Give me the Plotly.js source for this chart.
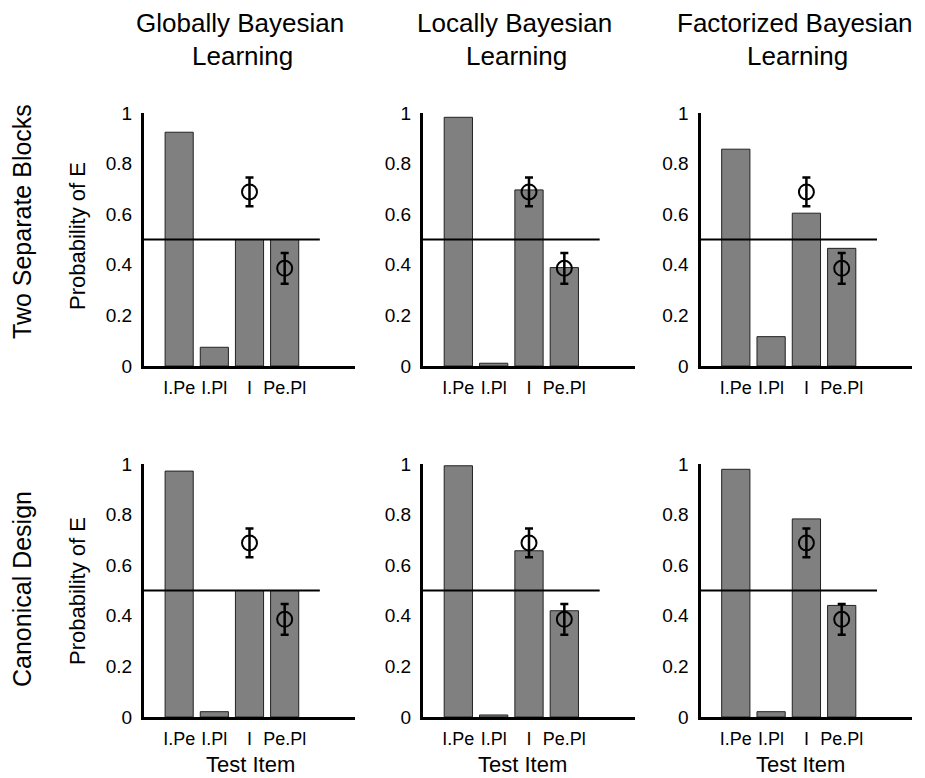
<!DOCTYPE html>
<html>
<head>
<meta charset="utf-8">
<script src="https://cdn.plot.ly/plotly-3.0.1.min.js"></script>
<style>html,body{margin:0;padding:0;background:#fff;}#chart{width:925px;height:778px;}</style>
</head>
<body>
<div id="chart"></div>
<script>
// ---- data ----
const categories = ['I.Pe', 'I.Pl', 'I', 'Pe.Pl'];
const modelNames = ['Globally Bayesian', 'Locally Bayesian', 'Factorized Bayesian'];
const titleSecondLine = 'Learning';
const designNames = ['Two Separate Blocks', 'Canonical Design'];
const yAxisLabel = 'Probability of E';
const xAxisLabel = 'Test Item';
const chanceLevel = 0.5;

// model predictions (probability of E) per test item
const twoBlocksGlobal     = [0.924, 0.074, 0.5, 0.5];
const twoBlocksLocal      = [0.983, 0.011, 0.696, 0.389];
const twoBlocksFactorized = [0.857, 0.116, 0.604, 0.465];
const canonicalGlobal     = [0.972, 0.021, 0.5, 0.5];
const canonicalLocal      = [0.993, 0.008, 0.657, 0.420];
const canonicalFactorized = [0.979, 0.021, 0.783, 0.441];

// human data (mean and error) for the I and Pe.Pl items
const humanItems = ['I', 'Pe.Pl'];
const humanMean  = [0.688, 0.386];
const humanErr   = [0.057, 0.061];

const modelValues = [
  [twoBlocksGlobal, twoBlocksLocal, twoBlocksFactorized],
  [canonicalGlobal, canonicalLocal, canonicalFactorized]
];

// ---- layout geometry (pixels) ----
const W = 925, H = 778;
const colPx = [[144, 355], [423, 635], [700.5, 912.3]];
const rowPx = [[113, 366], [464, 717]];
const px2x = p => p / W;
const px2y = p => 1 - p / H;

const FONT = 'Liberation Sans, Arial, Helvetica, sans-serif';
const traces = [];
const layout = {
  width: W, height: H,
  margin: {l: 0, r: 0, t: 0, b: 0},
  paper_bgcolor: 'white', plot_bgcolor: 'white',
  showlegend: false,
  font: {family: FONT, color: 'black', size: 17},
  annotations: [],
  bargap: 0.2
};

const xPos = categories.map((c, i) => i + 1);
const humanX = humanItems.map(h => categories.indexOf(h) + 1);

let k = 0;
for (let r = 0; r < 2; r++) {
  for (let c = 0; c < 3; c++) {
    k++;
    const xa = 'x' + (k === 1 ? '' : k), ya = 'y' + (k === 1 ? '' : k);
    const xkey = 'xaxis' + (k === 1 ? '' : k), ykey = 'yaxis' + (k === 1 ? '' : k);
    traces.push({
      type: 'bar', x: xPos, y: modelValues[r][c], xaxis: xa, yaxis: ya,
      width: 0.8,
      marker: {color: '#808080', line: {color: '#222222', width: 1}},
      hoverinfo: 'skip'
    });
    traces.push({
      type: 'scatter', mode: 'lines', xaxis: xa, yaxis: ya,
      x: [0, categories.length + 1], y: [chanceLevel, chanceLevel],
      line: {color: 'black', width: 2}, hoverinfo: 'skip'
    });
    traces.push({
      type: 'scatter', mode: 'markers', xaxis: xa, yaxis: ya,
      x: humanX, y: humanMean,
      error_y: {type: 'data', array: humanErr, visible: true, color: 'black', thickness: 2.5, width: 4},
      marker: {symbol: 'circle-open', size: 15, color: 'black', line: {color: 'black', width: 2}},
      hoverinfo: 'skip'
    });
    layout[xkey] = {
      domain: [px2x(colPx[c][0]), px2x(colPx[c][1])],
      anchor: ya,
      range: [0, categories.length + 2],
      showline: true, linewidth: 3, linecolor: 'black',
      showgrid: false, zeroline: false, ticks: '',
      tickvals: xPos, ticktext: categories,
      tickfont: {family: FONT, size: 18, color: 'black'},
      ticklabelstandoff: 3, fixedrange: true
    };
    layout[ykey] = {
      domain: [px2y(rowPx[r][1]), px2y(rowPx[r][0])],
      anchor: xa,
      range: [0, 1], tick0: 0, dtick: 0.2,
      showline: true, linewidth: 3, linecolor: 'black',
      showgrid: false, zeroline: false, ticks: '',
      tickfont: {family: FONT, size: 19, color: 'black'},
      ticklabelstandoff: 5, fixedrange: true
    };
  }
}

function ann(text, xp, yp, size, angle) {
  layout.annotations.push({
    text: text, xref: 'paper', yref: 'paper', x: px2x(xp), y: px2y(yp),
    xanchor: 'center', yanchor: 'middle', showarrow: false,
    textangle: angle || 0, font: {family: FONT, size: size, color: 'black'}
  });
}

// column titles
const titleCx = [240, 514, 795];
modelNames.forEach((m, i) => {
  ann(m, titleCx[i], 23, 26);
  ann(titleSecondLine, titleCx[i] + 2, 56, 26);
});
// row labels
const rowCy = [222, 589];
designNames.forEach((d, i) => ann(d, 22, rowCy[i], 25, -90));
// y axis titles
const yTitleCy = [236, 591];
yTitleCy.forEach(cy => ann(yAxisLabel, 77, cy, 22, -90));
// x axis titles (bottom row)
const xTitleCx = [250, 522, 800];
xTitleCx.forEach(cx => ann(xAxisLabel, cx, 764, 22));

Plotly.newPlot('chart', traces, layout, {staticPlot: true, displayModeBar: false});
</script>
</body>
</html>
